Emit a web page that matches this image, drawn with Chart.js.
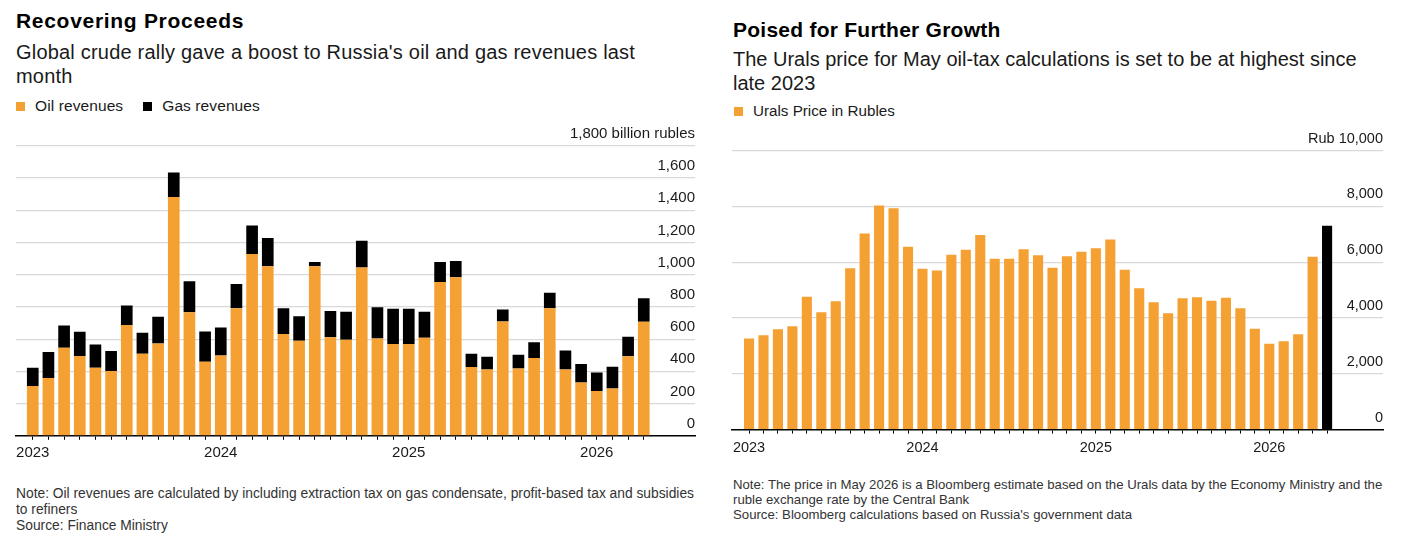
<!DOCTYPE html>
<html><head><meta charset="utf-8">
<script src="https://cdn.jsdelivr.net/npm/chart.js@4.4.1/dist/chart.umd.min.js"></script>
<style>
html,body{margin:0;padding:0;background:#fff;}
body{width:1417px;height:544px;position:relative;overflow:hidden;font-family:"Liberation Sans",Arial,sans-serif;color:#111;}
.t{position:absolute;white-space:nowrap;}
.title{font-weight:bold;font-size:21px;line-height:24px;color:#000;}
.sub{font-size:20px;line-height:24px;color:#1a1a1a;}
.leg{font-size:15.5px;line-height:20px;color:#1a1a1a;}
.sq{display:inline-block;width:9px;height:9px;vertical-align:0px;margin-right:10px;}
.note{font-size:13px;line-height:16px;color:#333;}
.cw{position:absolute;}
</style></head>
<body>
<div class="t title" style="left:16px;top:9px;letter-spacing:0.7px;">Recovering Proceeds</div>
<div class="t sub" style="left:16px;top:40px;letter-spacing:0.2px;">Global crude rally gave a boost to Russia's oil and gas revenues last<br>month</div>
<div class="t leg" style="left:16px;top:96px;letter-spacing:0.1px;"><span class="sq" style="background:#F5A032"></span>Oil revenues<span class="sq" style="background:#000;margin-left:20px"></span>Gas revenues</div>
<div class="t note" style="left:16px;top:486px;font-size:13.8px;">Note: Oil revenues are calculated by including extraction tax on gas condensate, profit-based tax and subsidies<br>to refiners<br>Source: Finance Ministry</div>

<div class="t title" style="left:733px;top:18px;letter-spacing:0.25px;">Poised for Further Growth</div>
<div class="t sub" style="left:733px;top:47px;">The Urals price for May oil-tax calculations is set to be at highest since<br>late 2023</div>
<div class="t leg" style="left:734px;top:101px;font-size:15.2px;"><span class="sq" style="background:#F5A032"></span>Urals Price in Rubles</div>
<div class="t note" style="left:733px;top:477px;line-height:15px;font-size:13.2px;">Note: The price in May 2026 is a Bloomberg estimate based on the Urals data by the Economy Ministry and the<br>ruble exchange rate by the Central Bank<br>Source: Bloomberg calculations based on Russia's government data</div>

<div class="cw" style="left:0;top:120px;width:710px;height:350px;"><canvas id="c1" width="710" height="350" style="width:710px;height:350px"></canvas></div>
<div class="cw" style="left:720px;top:125px;width:697px;height:340px;"><canvas id="c2" width="697" height="340" style="width:697px;height:340px"></canvas></div>

<script>
// ---- Left chart data (billion rubles) ----
const revenueMonths = [
 '2023-01','2023-02','2023-03','2023-04','2023-05','2023-06','2023-07','2023-08','2023-09','2023-10','2023-11','2023-12',
 '2024-01','2024-02','2024-03','2024-04','2024-05','2024-06','2024-07','2024-08','2024-09','2024-10','2024-11','2024-12',
 '2025-01','2025-02','2025-03','2025-04','2025-05','2025-06','2025-07','2025-08','2025-09','2025-10','2025-11','2025-12',
 '2026-01','2026-02','2026-03','2026-04'];
const oilRevenues = [309,359,546,495,423,402,687,509,573,1481,767,460,
 499,792,1128,1052,631,590,1052,612,596,1045,604,569,
 569,608,955,984,427,412,709,417,483,792,412,330,
 278,293,493,707];
const gasRevenues = [114,161,139,150,144,124,121,130,165,152,192,187,
 173,150,177,175,161,152,26,163,173,165,194,219,
 219,161,123,101,82,79,75,86,98,95,118,115,
 114,136,121,147];
const revenueTickLabels = ['0','200','400','600','800','1,000','1,200','1,400','1,600','1,800 billion rubles'];

// ---- Right chart data (rubles per barrel) ----
const uralsMonths = [
 '2023-01','2023-02','2023-03','2023-04','2023-05','2023-06','2023-07','2023-08','2023-09','2023-10','2023-11','2023-12',
 '2024-01','2024-02','2024-03','2024-04','2024-05','2024-06','2024-07','2024-08','2024-09','2024-10','2024-11','2024-12',
 '2025-01','2025-02','2025-03','2025-04','2025-05','2025-06','2025-07','2025-08','2025-09','2025-10','2025-11','2025-12',
 '2026-01','2026-02','2026-03','2026-04','2026-05'];
const uralsRubles = [3265,3385,3600,3708,4760,4210,4605,5789,7032,8037,7941,6554,
 5765,5705,6267,6446,6973,6124,6124,6470,6255,5801,6219,6375,
 6506,6817,5729,5071,4569,4174,4712,4748,4617,4724,4353,3612,
 3074,3169,3421,6195,7308];
const uralsTickLabels = ['0','2,000','4,000','6,000','8,000','Rub 10,000'];

const ORANGE = '#F5A032';
const FONT = '"Liberation Sans", Arial, sans-serif';

function xAxis(months, min, max, fontSize, pad) {
  return {
    type: 'linear', min: min, max: max, stacked: true, offset: false,
    afterBuildTicks: (axis) => { axis.ticks = months.map((m, i) => ({ value: i })); },
    ticks: {
      autoSkip: false, maxRotation: 0, includeBounds: false, padding: pad,
      color: '#1a1a1a', font: { family: FONT, size: fontSize },
      callback: (v) => { const m = months[v]; return (m && m.endsWith('-01')) ? m.slice(0, 4) : ''; }
    },
    grid: { display: true, offset: false, drawOnChartArea: false, drawTicks: true, tickLength: 4, tickColor: '#000', tickWidth: 1 },
    border: { display: true, color: '#000', width: 1.5 }
  };
}
function yAxis(labels, max, step, fontSize) {
  return {
    position: 'right', min: 0, max: max, stacked: true,
    afterBuildTicks: (axis) => { axis.ticks = labels.map((l, i) => ({ value: i * step })); },
    ticks: {
      mirror: true, padding: 0, labelOffset: -12, color: '#1a1a1a',
      font: { family: FONT, size: fontSize },
      callback: (v) => labels[Math.round(v / step)]
    },
    grid: { drawTicks: false, lineWidth: 1.2, color: (c) => (c.tick && c.tick.value === 0) ? 'rgba(0,0,0,0)' : '#d9d9d9' },
    border: { display: false }
  };
}

Chart.defaults.font.family = FONT;

new Chart(document.getElementById('c1'), {
  type: 'bar',
  data: {
    datasets: [
      { label: 'Oil revenues', data: oilRevenues.map((v, i) => ({ x: i, y: v })), backgroundColor: ORANGE,
        barPercentage: 0.745, categoryPercentage: 1, borderWidth: 0 },
      { label: 'Gas revenues', data: gasRevenues.map((v, i) => ({ x: i, y: v })), backgroundColor: '#000',
        barPercentage: 0.745, categoryPercentage: 1, borderWidth: 0 }
    ]
  },
  options: {
    responsive: false, animation: false,
    layout: { padding: { left: 16, right: 15, top: 25.7, bottom: 4.2 } },
    plugins: { legend: { display: false }, tooltip: { enabled: false } },
    scales: {
      x: xAxis(revenueMonths, -1.07, 42.27, 15, 4),
      y: yAxis(revenueTickLabels, 1800, 200, 15)
    }
  }
});

new Chart(document.getElementById('c2'), {
  type: 'bar',
  data: {
    datasets: [
      { label: 'Urals Price in Rubles', data: uralsRubles.map((v, i) => ({ x: i, y: v })),
        backgroundColor: uralsRubles.map((v, i) => i === uralsRubles.length - 1 ? '#000' : ORANGE),
        barPercentage: 0.7, categoryPercentage: 1, borderWidth: 0 }
    ]
  },
  options: {
    responsive: false, animation: false,
    layout: { padding: { left: 12, right: 34, top: 25.7, bottom: 2.0 } },
    plugins: { legend: { display: false }, tooltip: { enabled: false } },
    scales: {
      x: xAxis(uralsMonths, -1.18, 43.87, 14.5, 6),
      y: yAxis(uralsTickLabels, 10000, 2000, 14.5)
    }
  }
});
</script>
</body></html>
